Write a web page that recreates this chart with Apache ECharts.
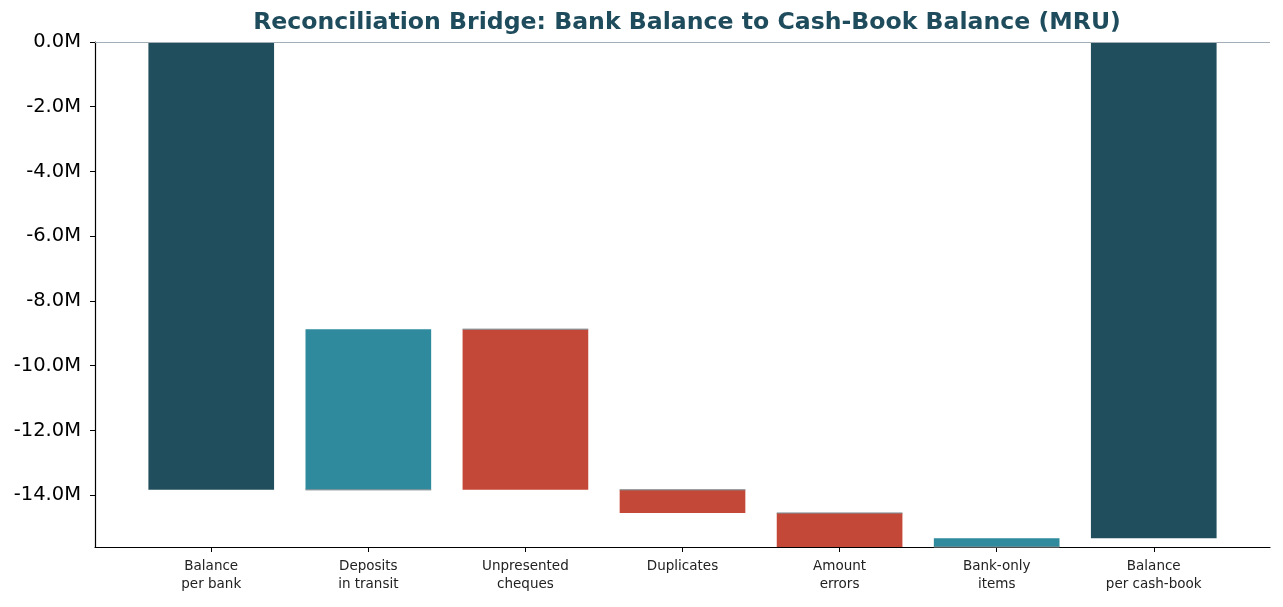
<!DOCTYPE html>
<html>
<head>
<meta charset="utf-8">
<title>Reconciliation Bridge</title>
<script src="https://cdn.jsdelivr.net/npm/echarts@6/dist/echarts.min.js"></script>
<style>
  html, body { margin: 0; padding: 0; background: #fff; }
  #chart { width: 1283px; height: 607px; }
</style>
</head>
<body>
<div id="chart"></div>
<script>
  // waterfall steps, in millions of MRU
  var categories = ['Balance\nper bank', 'Deposits\nin transit', 'Unpresented\ncheques',
    'Duplicates', 'Amount\nerrors', 'Bank-only\nitems', 'Balance\nper cash-book'];
  var changes = [-13.83, 4.96, -4.96, -0.72, -1.05, 0.27, -15.33];
  var kinds = ['total', 'step', 'step', 'step', 'step', 'step', 'total'];
  var yTicks = [0, -2, -4, -6, -8, -10, -12, -14];

  var colors = { total: '#214e5d', up: '#2e8a9c', down: '#c44837' };

  // build [x, low, high, prevLevel, colour] rows from running total
  var rows = [];
  var running = 0;
  changes.forEach(function (v, i) {
    var start, end;
    if (kinds[i] === 'total') {
      start = 0; end = v;
      running = v;
    } else {
      start = running; end = running + v;
      running = end;
    }
    var col = kinds[i] === 'total' ? colors.total : (v >= 0 ? colors.up : colors.down);
    rows.push([i, Math.min(start, end), Math.max(start, end), kinds[i] === 'total' ? NaN : start, col]);
  });
  var yMin = Math.min.apply(null, rows.map(function (r) { return r[1]; }));

  var chart = echarts.init(document.getElementById('chart'));

  var option = {
    animation: false,
    title: {
      text: 'Reconciliation Bridge: Bank Balance to Cash-Book Balance (MRU)',
      left: 682,
      textAlign: 'center',
      top: 6,
      textStyle: {
        fontFamily: 'DejaVu Sans',
        fontWeight: 'bold',
        fontSize: 23.6,
        color: '#1f4c5c'
      }
    },
    grid: { left: 95, right: 13, top: 42, bottom: 60 },
    xAxis: {
      type: 'value',
      min: -0.74,
      max: 6.74,
      splitLine: { show: false },
      axisLine: { onZero: false, lineStyle: { color: '#000', width: 1.2 } },
      axisTick: {
        customValues: categories.map(function (c, i) { return i; }),
        length: 5,
        lineStyle: { color: '#000' }
      },
      axisLabel: {
        customValues: categories.map(function (c, i) { return i; }),
        formatter: function (v) { return categories[Math.round(v)]; },
        fontFamily: 'DejaVu Sans',
        fontSize: 13.5,
        lineHeight: 18.5,
        color: '#222',
        margin: 10
      }
    },
    yAxis: {
      type: 'value',
      min: yMin,
      max: 0,
      splitLine: { show: false },
      axisLine: { show: true, onZero: false, lineStyle: { color: '#000', width: 1.2 } },
      axisTick: { show: true, customValues: yTicks, length: 5, lineStyle: { color: '#000' } },
      axisLabel: {
        customValues: yTicks,
        formatter: function (v) { return v.toFixed(1) + 'M'; },
        fontFamily: 'DejaVu Sans',
        fontSize: 19.5,
        color: '#000',
        margin: 14
      }
    },
    series: [{
      type: 'custom',
      data: rows,
      encode: { x: 0, y: [1, 2] },
      renderItem: function (params, api) {
        var x = api.value(0);
        var lo = api.coord([x, api.value(1)]);
        var hi = api.coord([x, api.value(2)]);
        var w = api.size([0.8, 0])[0];
        var children = [{
          type: 'rect',
          shape: { x: lo[0] - w / 2, y: hi[1], width: w, height: lo[1] - hi[1] },
          style: { fill: api.value(4) }
        }];
        var prev = api.value(3);
        if (!isNaN(prev)) {
          var p = api.coord([x, prev]);
          children.push({
            type: 'line',
            shape: { x1: p[0] - w / 2, y1: p[1], x2: p[0] + w / 2, y2: p[1] },
            style: { stroke: 'rgba(130,140,145,0.75)', lineWidth: 1.5 }
          });
        }
        return { type: 'group', children: children };
      },
      markLine: {
        silent: true,
        symbol: 'none',
        label: { show: false },
        lineStyle: { color: '#a3aeb8', width: 1.2, type: 'solid' },
        data: [{ yAxis: 0 }]
      }
    }]
  };

  chart.setOption(option);
</script>
</body>
</html>
